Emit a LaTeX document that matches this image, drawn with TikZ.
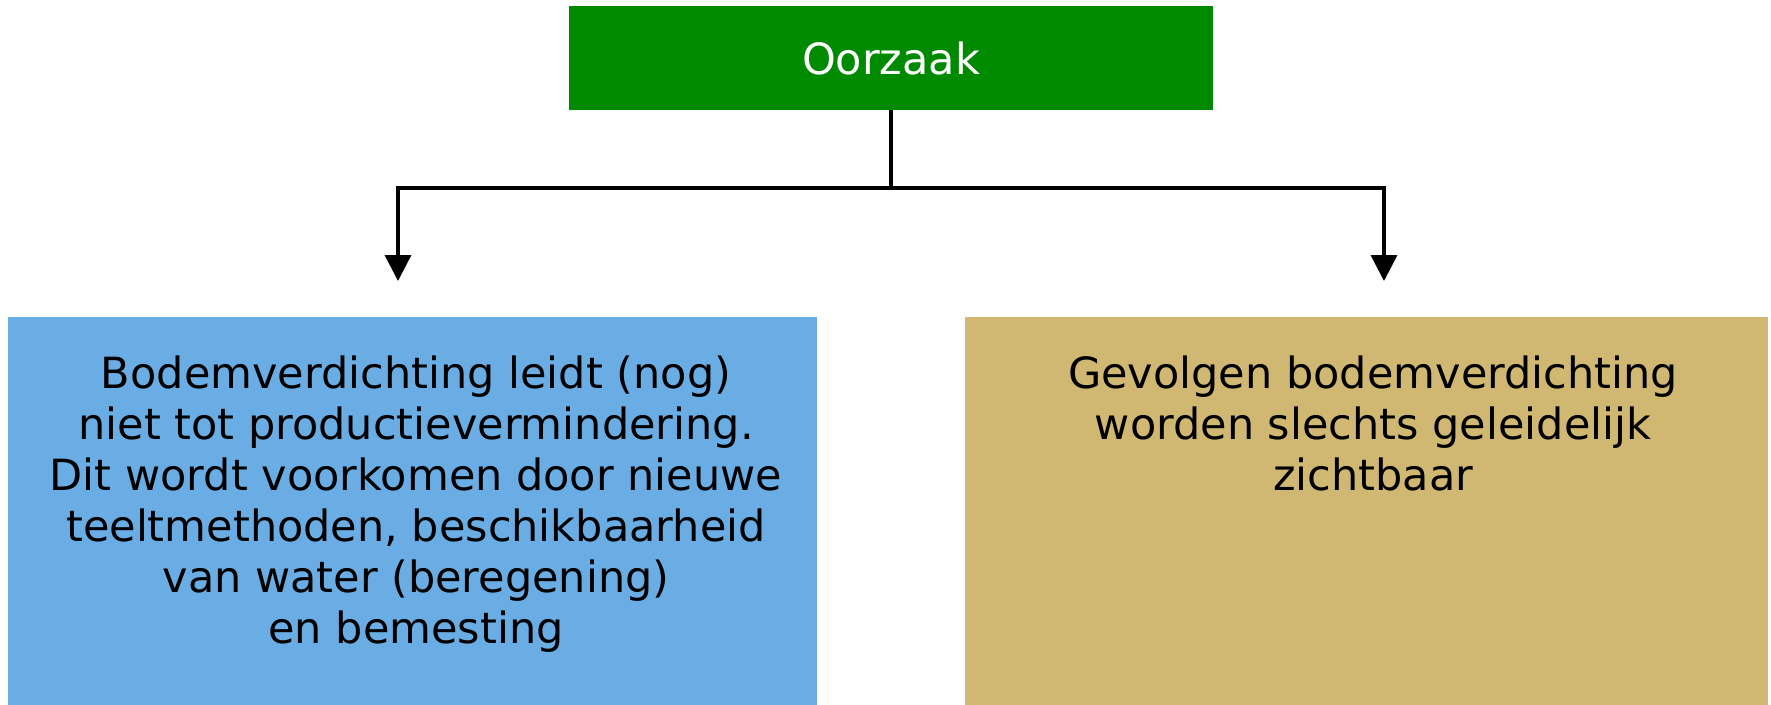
\documentclass[tikz,border=0pt]{standalone}
\usepackage{fontspec}
\setmainfont{DejaVu Sans}
\usetikzlibrary{arrows.meta}
\definecolor{causegreen}{RGB}{0,138,0}
\definecolor{leftblue}{RGB}{106,173,228}
\definecolor{righttan}{RGB}{208,184,115}
\tikzstyle{box}=[inner sep=0pt, minimum height=104pt]
\tikzstyle{causebox}=[box, fill=causegreen, text=white, minimum width=644pt]
\tikzstyle{effectbox}=[box, minimum width=805pt, minimum height=388pt, anchor=north]
\tikzstyle{boxtext}=[inner sep=0pt, anchor=north, align=center]
\tikzstyle{branch}=[line width=3.5pt, -{Triangle[width=26pt,length=26pt]}]

\begin{document}
\begin{tikzpicture}[x=1pt, y=-1pt, font=\fontsize{43}{51}\selectfont]
        \useasboundingbox (0, 0) rectangle (1771, 704);
        \node[causebox]                    (cause) at (891, 58) {Oorzaak};
        \node[effectbox, fill=leftblue, minimum width=809pt]  (left) at (412.5, 317) {};
        \node[effectbox, fill=righttan, minimum width=803pt]  (right) at (1366.5, 317) {};
        \node[boxtext] (lefttext) at (416, 356) {Bodemverdichting leidt (nog)\\niet tot productievermindering.\\Dit wordt voorkomen door nieuwe\\teeltmethoden, beschikbaarheid\\van water (beregening)\\en bemesting};
        \node[boxtext] (righttext) at (1373, 356) {Gevolgen bodemverdichting\\worden slechts geleidelijk\\zichtbaar};
        \coordinate (split) at (891, 188);
        \coordinate (tipL) at (398, 281);
        \coordinate (tipR) at (1384, 281);
        \draw[line width=3.5pt] (cause.south) -- (split);
        \draw[branch] (split) -| (tipL);
        \draw[branch] (split) -| (tipR);
    \end{tikzpicture}
\end{document}
